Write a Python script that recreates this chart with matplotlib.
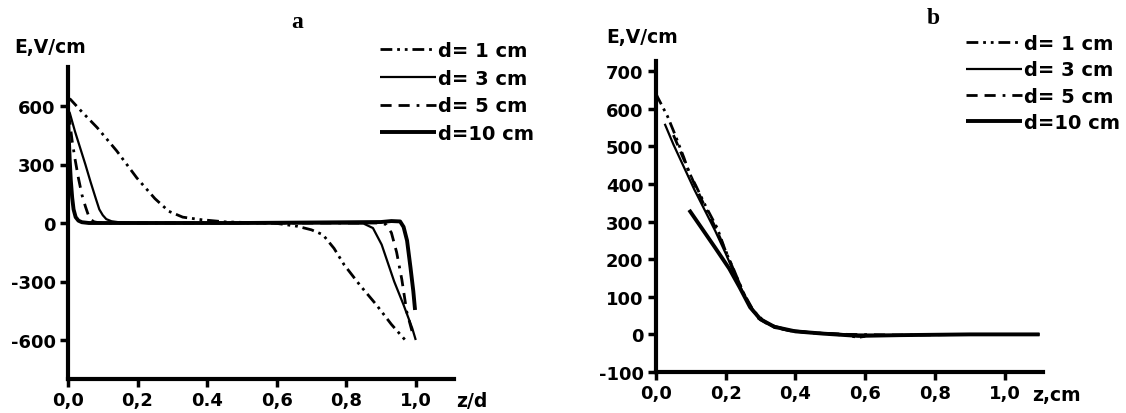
import matplotlib
matplotlib.use("Agg")
from matplotlib import pyplot as plt

plt.rcParams['font.family'] = ['DejaVu Sans']
plt.rcParams['font.weight'] = 'bold'
plt.rcParams['axes.unicode_minus'] = False
plt.rcParams['lines.scale_dashes'] = False

W, H = 1126, 414

# ---- panel a: E vs z/d ----
za1 = [0.0, 0.007, 0.04, 0.084, 0.14, 0.198, 0.25, 0.29, 0.33, 0.383, 0.45, 0.52,
       0.6, 0.66, 0.7, 0.733, 0.765, 0.794, 0.84, 0.887, 0.93, 0.974]
Ea1 = [640, 634, 570, 489, 370, 231, 125, 60, 30, 17, 6, 2,
       -2, -17, -35, -60, -130, -214, -320, -420, -520, -609]

za3 = [0.0, 0.005, 0.02, 0.035, 0.05, 0.065, 0.08, 0.09, 0.1, 0.11, 0.125, 0.15, 0.2,
       0.5, 0.85, 0.877, 0.902, 0.938, 0.965, 0.99, 1.0]
Ea3 = [580, 565, 470, 385, 300, 210, 125, 70, 40, 20, 9, 3, 0,
       0, -3, -26, -111, -300, -420, -540, -600]

za5 = [0.0, 0.005, 0.012, 0.02, 0.03, 0.04, 0.05, 0.058, 0.065, 0.075, 0.09, 0.12,
       0.5, 0.9, 0.915, 0.93, 0.945, 0.96, 0.974, 0.99]
Ea5 = [560, 520, 420, 330, 230, 145, 85, 43, 18, 6, 1, 0,
       0, 0, -8, -50, -150, -290, -454, -560]

za10 = [0.0, 0.002, 0.005, 0.008, 0.012, 0.016, 0.022, 0.03, 0.04, 0.06,
        0.5, 0.9, 0.93, 0.955, 0.965, 0.975, 0.985, 0.993, 0.998]
Ea10 = [560, 450, 320, 220, 130, 70, 30, 12, 4, 0,
        0, 5, 10, 8, -20, -90, -230, -350, -446]

# ---- panel b: E vs z, cm ----
zb1 = [0.0, 0.005, 0.033, 0.052, 0.08, 0.095, 0.114, 0.143, 0.176, 0.2, 0.225, 0.249,
       0.28, 0.31, 0.342, 0.39, 0.446, 0.5, 0.55, 0.58, 0.6]
Eb1 = [640, 630, 580, 537, 470, 430, 396, 340, 282, 220, 168, 114,
       62, 35, 18, 9, 4, 1, -3, -8, -5]

zb3 = [0.025, 0.05, 0.08, 0.11, 0.14, 0.17, 0.2, 0.23, 0.26, 0.29, 0.33, 0.38,
       0.45, 0.55, 0.7, 0.9, 1.1]
Eb3 = [560, 505, 445, 385, 330, 275, 215, 150, 90, 48, 25, 12,
       5, 0, -2, 0, 0]

zb5 = [0.05, 0.08, 0.11, 0.14, 0.17, 0.2, 0.23, 0.26, 0.29, 0.33, 0.38, 0.45,
       0.55, 0.7, 0.9, 1.1]
Eb5 = [530, 465, 400, 340, 285, 222, 155, 92, 45, 22, 10, 4,
       0, -2, 0, 0]

zb10 = [0.095, 0.13, 0.17, 0.21, 0.24, 0.27, 0.3, 0.34, 0.4, 0.48, 0.58, 0.7, 0.9, 1.1]
Eb10 = [331, 284, 230, 175, 125, 72, 40, 20, 8, 2, -4, -2, 0, 0]

labels = ['d= 1 cm', 'd= 3 cm', 'd= 5 cm', 'd=10 cm']
styles = [(0, (8.5, 3.5, 2, 3.5, 2, 3.5)), '-', (0, (8, 5, 8, 5, 2, 5)), '-']
widths = [2.0, 1.6, 2.0, 2.8]

xticks = [0, 0.2, 0.4, 0.6, 0.8, 1.0]
xlab_a = ['0,0', '0,2', '0.4', '0,6', '0,8', '1,0']
xlab_b = ['0,0', '0,2', '0,4', '0,6', '0,8', '1,0']
yticks_a = [-600, -300, 0, 300, 600]
yticks_b = [-100, 0, 100, 200, 300, 400, 500, 600, 700]

fig = plt.figure(figsize=(W / 100, H / 100), dpi=100)
ax_a = fig.add_axes([68 / W, 1 - 380 / H, 386 / W, 312 / H])
ax_b = fig.add_axes([656 / W, 1 - 373 / H, 387 / W, 311 / H])


def style_axes(ax, xlabels, yticks):
    for s in ['top', 'right']:
        ax.spines[s].set_visible(False)
    for s in ['left', 'bottom']:
        ax.spines[s].set_linewidth(3)
    ax.set_xticks(xticks, labels=xlabels, fontweight='bold', fontsize=13)
    ax.set_yticks(yticks, labels=[str(v) for v in yticks], fontweight='bold', fontsize=13)
    ax.tick_params(direction='out', length=6, width=2.5, pad=3)


series_a = [(za1, Ea1), (za3, Ea3), (za5, Ea5), (za10, Ea10)]
series_b = [(zb1, Eb1), (zb3, Eb3), (zb5, Eb5), (zb10, Eb10)]

for ax, series in [(ax_a, series_a), (ax_b, series_b)]:
    for (x, y), lab, ls, lw in zip(series, labels, styles, widths):
        ax.plot(x, y, color='black', linestyle=ls, linewidth=lw, label=lab,
                solid_capstyle='butt', dash_capstyle='butt')

ax_a.set_xlim(0, 1.11)
ax_a.set_ylim(-800, 800)
style_axes(ax_a, xlab_a, yticks_a)

ax_b.set_xlim(0, 1.11)
ax_b.set_ylim(-100, 727)
style_axes(ax_b, xlab_b, yticks_b)

leg_kw = dict(loc='upper left', frameon=False, fontsize=14, handlelength=2.9,
              handletextpad=0.1, borderpad=0, borderaxespad=0)
leg_a = ax_a.legend(bbox_to_anchor=(380 / W, 1 - 42 / H), bbox_transform=fig.transFigure,
                    labelspacing=0.45, **leg_kw)
leg_b = ax_b.legend(bbox_to_anchor=(966 / W, 1 - 35 / H), bbox_transform=fig.transFigure,
                    labelspacing=0.38, **leg_kw)
for leg in [leg_a, leg_b]:
    for t in leg.get_texts():
        t.set_fontweight('bold')

fig.text(297 / W, 1 - 22 / H, 'a', ha='center', va='center', fontsize=17,
         family='Liberation Serif', weight='bold')
fig.text(933 / W, 1 - 18 / H, 'b', ha='center', va='center', fontsize=17,
         family='Liberation Serif', weight='bold')
fig.text(14 / W, 1 - 53 / H, 'E,V/cm', ha='left', va='baseline', fontsize=13.5, weight='bold')
fig.text(606 / W, 1 - 43 / H, 'E,V/cm', ha='left', va='baseline', fontsize=13.5, weight='bold')
fig.text(456 / W, 1 - 407 / H, 'z/d', ha='left', va='baseline', fontsize=13.5, weight='bold')
fig.text(1032 / W, 1 - 401 / H, 'z,cm', ha='left', va='baseline', fontsize=13.5, weight='bold')

fig.savefig('out.png', dpi=100)
